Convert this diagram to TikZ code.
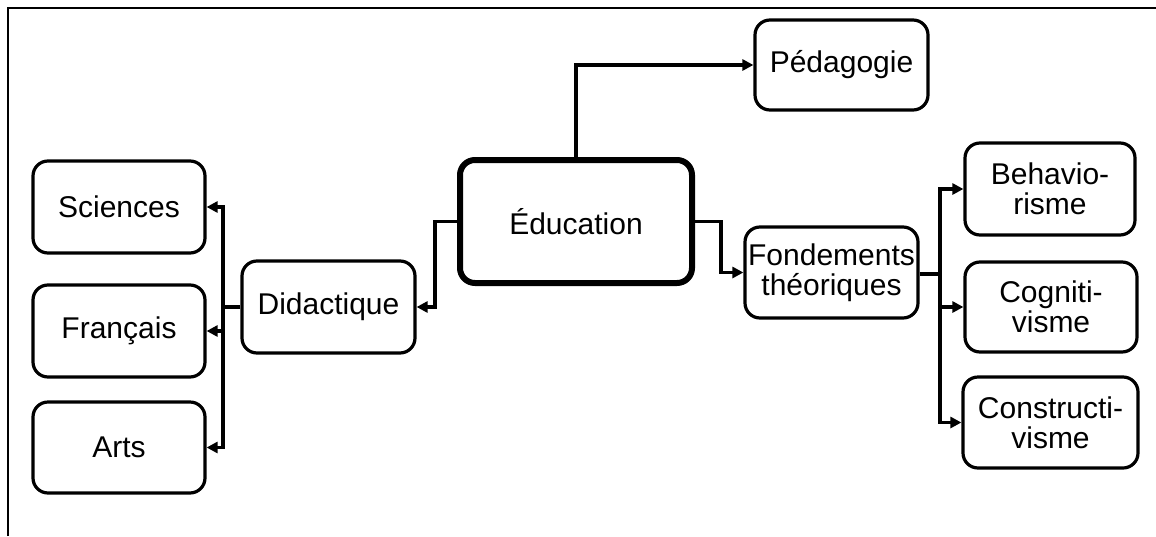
\documentclass[tikz,border=0pt]{standalone}
\usepackage{fontspec}
\setmainfont{Liberation Sans}
\usetikzlibrary{arrows.meta}
\begin{document}
\begin{tikzpicture}[x=1pt,y=-1pt,
  box/.style={draw, line width=3.2pt, rounded corners=15pt, inner sep=0pt,
    align=center, font=\fontsize{30}{30}\selectfont},
  mainbox/.style={box, line width=6pt},
  link/.style={line width=3.2pt},
  arr/.style={link, -{Triangle[length=11pt,width=11pt]}}]
\useasboundingbox (0,0) rectangle (1156,536);
% frame lines along the top and left edges
\draw[line width=1.8pt] (8,536) -- (8,8) -- (1156,8);

% central node
\node[mainbox, minimum width=232pt, minimum height=123pt] (edu) at (576,221.5) {Éducation};

% left branch
\node[box, minimum width=173pt, minimum height=92pt] (did) at (328.5,307) {Didactique};
\node[box, minimum width=172pt, minimum height=92pt] (sci) at (119,207) {Sciences};
\node[box, minimum width=172pt, minimum height=92pt] (fra) at (119,331) {Français};
\node[box, minimum width=172pt, minimum height=91pt] (arts) at (119,447.5) {Arts};

% top branch
\node[box, minimum width=173pt, minimum height=90pt] (ped) at (841.5,65) {Pédagogie};

% right branch
\node[box, minimum width=173pt, minimum height=91pt] (fon) at (831.5,272.5) {Fondements\\théoriques};
\node[box, minimum width=170pt, minimum height=92pt] (beh) at (1050,189) {Behavio-\\risme};
\node[box, minimum width=172pt, minimum height=90pt] (cog) at (1051,307) {Cogniti-\\visme};
\node[box, minimum width=175pt, minimum height=91pt] (con) at (1050.5,422.5) {Constructi-\\visme};

% connectors from the central node
\draw[arr] (edu.north) |- (ped.west);
\draw[arr] (edu.west) -- ++(-22,0) |- (did.east);
\draw[arr] (edu.east) -- ++(26,0) |- (fon.west);

% left trunk
\coordinate (lj) at (223,307);
\draw[link] (did.west) -- (lj);
\draw[arr] (lj) |- (sci.east);
\draw[arr] (lj) |- (fra.east);
\draw[arr] (lj) |- (arts.east);

% right trunk
\coordinate (rj) at (940,274);
\draw[link] (fon.east |- rj) -- (rj);
\draw[arr] (rj) |- (beh.west);
\draw[arr] (rj) |- (cog.west);
\draw[arr] (rj) |- (con.west);
\end{tikzpicture}
\end{document}
